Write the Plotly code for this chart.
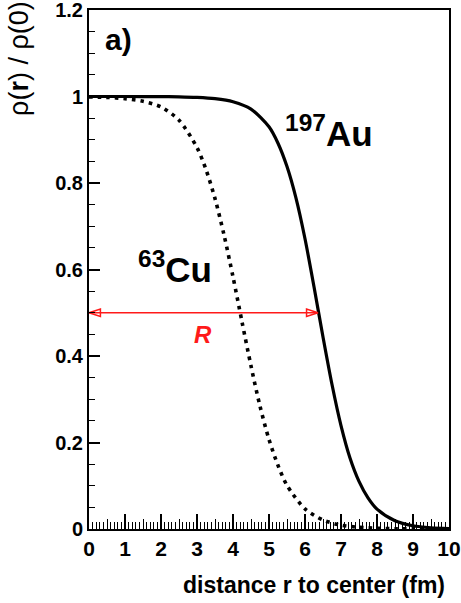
import plotly.graph_objects as go

# Radial density profiles rho(r)/rho(0)
r_au = [0, 1, 2, 2.5, 3, 3.5, 4, 4.5, 5, 5.25, 5.5, 5.75, 6, 6.25, 6.5, 6.75,
        7, 7.25, 7.5, 7.75, 8, 8.5, 9, 9.5, 10]
rho_au = [1.0, 1.0, 0.9997, 0.9993, 0.998, 0.995, 0.988, 0.971, 0.930, 0.892,
          0.838, 0.765, 0.671, 0.560, 0.444, 0.334, 0.239, 0.164, 0.110, 0.072,
          0.046, 0.019, 0.0074, 0.0029, 0.0011]

r_cu = [0, 0.5, 1, 1.5, 2, 2.5, 3, 3.25, 3.5, 3.75, 4, 4.25, 4.5, 4.75, 5,
        5.25, 5.5, 6, 6.5, 7, 7.5, 8, 8.5, 9, 9.5, 10]
rho_cu = [0.999, 0.998, 0.995, 0.989, 0.976, 0.945, 0.882, 0.831, 0.764, 0.680,
          0.583, 0.479, 0.377, 0.284, 0.207, 0.147, 0.101, 0.0465, 0.0207,
          0.0090, 0.0039, 0.0017, 0.0007, 0.0003, 0.0001, 0.00005]

R_AU = 6.36          # half-density radius of Au (arrow length)
HALF = 0.5

FONT = "Liberation Sans, Arial, Helvetica, sans-serif"

fig = go.Figure()

fig.add_trace(go.Scatter(x=r_cu, y=rho_cu, mode="lines",
                         line=dict(color="black", width=3.6, dash="3.6px,5px",
                                   shape="spline", smoothing=0.8),
                         hoverinfo="skip", showlegend=False))
fig.add_trace(go.Scatter(x=r_au, y=rho_au, mode="lines",
                         line=dict(color="black", width=3.2,
                                   shape="spline", smoothing=0.8),
                         hoverinfo="skip", showlegend=False))

# red double arrow for R
fig.add_trace(go.Scatter(x=[0, R_AU], y=[HALF, HALF], mode="lines+markers",
                         line=dict(color="#ff1a1a", width=1.5),
                         marker=dict(symbol="arrow-open", size=12, angle=[-90, 90],
                                     color="#ff1a1a",
                                     line=dict(color="#ff1a1a", width=1.5)),
                         hoverinfo="skip", showlegend=False, cliponaxis=False))

# dummy trace for the overlay axis that carries the half-unit ticks
fig.add_trace(go.Scatter(x=[0], y=[0], xaxis="x2", mode="markers",
                         marker=dict(opacity=0), hoverinfo="skip", showlegend=False))

xtickfont = dict(family=FONT, size=21, color="black", weight="bold")
ytickfont = dict(family=FONT, size=20, color="black", weight="bold")

fig.update_layout(
    width=461, height=603,
    margin=dict(l=89, r=12, t=10, b=74),
    plot_bgcolor="white", paper_bgcolor="white",
    xaxis=dict(range=[0, 10], dtick=1, tick0=0, ticks="inside", ticklen=15,
               tickwidth=1.5, tickcolor="black", automargin=False,
               ticklabeloverflow="allow",
               minor=dict(dtick=0.1, ticks="inside", ticklen=7, tickwidth=1,
                          tickcolor="black"),
               showline=True, linewidth=2, linecolor="black", mirror=True,
               showgrid=False, zeroline=False, tickfont=xtickfont),
    xaxis2=dict(range=[0, 10], overlaying="x", side="bottom", tick0=0.5, dtick=1,
                ticks="inside", ticklen=10, tickwidth=1, tickcolor="black",
                showticklabels=False, showgrid=False, zeroline=False,
                showline=False, automargin=False),
    yaxis=dict(range=[0, 1.2], dtick=0.2, tick0=0, ticks="inside", ticklen=11,
               tickwidth=1.5, tickcolor="black", automargin=False,
               ticklabeloverflow="allow",
               minor=dict(dtick=0.05, ticks="inside", ticklen=6, tickwidth=1,
                          tickcolor="black"),
               showline=True, linewidth=2, linecolor="black", mirror=True,
               showgrid=False, zeroline=False, tickfont=ytickfont),
    annotations=[
        dict(text="ρ(<b>r</b>) / ρ(0)", xref="paper", yref="paper",
             x=-0.194, y=0.906, textangle=-90, showarrow=False,
             font=dict(family=FONT, size=27, color="black"),
             xanchor="center", yanchor="middle"),
        dict(text="<b>distance r to center (fm)</b>", xref="paper", yref="paper",
             x=0.994, y=-0.108, showarrow=False,
             font=dict(family=FONT, size=23, color="black"),
             xanchor="right", yanchor="middle"),
        dict(text="<b>a)</b>", x=0.81, y=1.131, showarrow=False,
             font=dict(family=FONT, size=30, color="black"),
             xanchor="center", yanchor="middle"),
        dict(text="<b><sup>197</sup>Au</b>", x=5.40, y=0.92, showarrow=False,
             font=dict(family=FONT, size=35, color="black"),
             xanchor="left", yanchor="middle"),
        dict(text="<b><sup>63</sup>Cu</b>", x=1.30, y=0.606, showarrow=False,
             font=dict(family=FONT, size=35, color="black"),
             xanchor="left", yanchor="middle"),
        dict(text="<b><i>R</i></b>", x=3.17, y=0.449, showarrow=False,
             font=dict(family=FONT, size=24, color="#ff1a1a"),
             xanchor="center", yanchor="middle"),
    ],
)

fig.write_html("out.html", config={"displayModeBar": False},
               post_script="document.body.style.margin='0';")
